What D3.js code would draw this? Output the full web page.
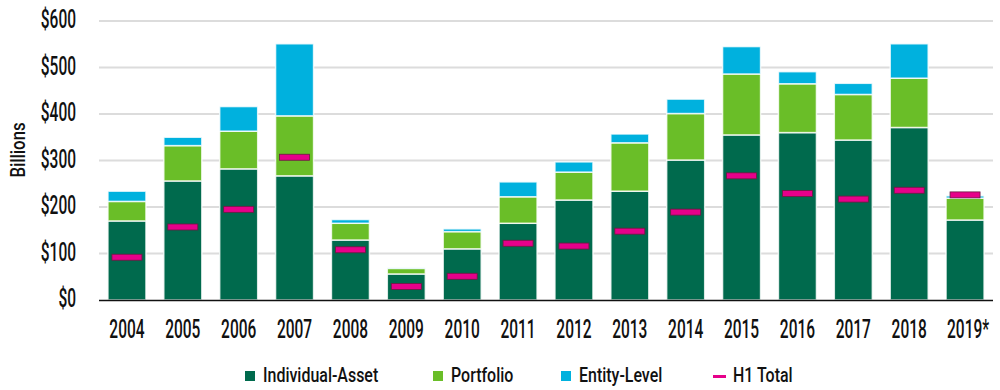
<!DOCTYPE html>
<html><head><meta charset="utf-8">
<script src="https://cdn.jsdelivr.net/npm/d3@7"></script>
<style>
body{margin:0;background:#fff;}
text{font-family:Roboto,"Noto Sans",sans-serif;fill:#111;font-weight:500;}
</style></head>
<body><svg id="c" width="1000" height="390"></svg>
<script>
const years = ["2004","2005","2006","2007","2008","2009","2010","2011","2012","2013","2014","2015","2016","2017","2018","2019*"];
const individualAsset = [170,256,282,267,129,56,110,165,215,234,301,355,360,344,371,172];
const portfolio       = [42,76,81,129,36,12,37,57,60,104,100,131,105,98,106,47];
const entityLevel     = [22,18,53,155,8,1,6,32,22,19,31,59,26,24,74,5];
const h1Total         = [92,157,195,307,108,29,51,122,116,148,189,267,229,217,236,226];
const yTicks = [0,100,200,300,400,500,600];
const seriesNames = ["Individual-Asset","Portfolio","Entity-Level"];
const colors = ["#006A4D","#6ABE28","#00B1DE"];
const h1Color = "#E6008A";

const svg = d3.select("#c");
const m = {l:99, r:993, t:21, b:300};
const x = d3.scaleBand().domain(years).range([m.l,m.r]).paddingInner(0.32).paddingOuter(0.16);
const y = d3.scaleLinear().domain([0,600]).range([m.b,m.t]);

// gridlines
svg.append("g").selectAll("line").data(yTicks.filter(d=>d>0)).join("line")
  .attr("x1",m.l).attr("x2",m.r).attr("y1",d=>y(d)).attr("y2",d=>y(d))
  .attr("stroke","#dcdcdc").attr("stroke-width",2);

// y labels (condensed via horizontal scale)
svg.append("g").selectAll("text").data(yTicks).join("text")
  .attr("transform",d=>`translate(76,${y(d)+7}) scale(0.62,1)`)
  .attr("text-anchor","end").attr("font-size",25).text(d=>"$"+d);

svg.append("text").attr("transform","translate(25,150) rotate(-90) scale(0.8,1)")
  .attr("text-anchor","middle").attr("font-size",21).text("Billions");

// stacks
const rows = years.map((yr,i)=>({year:yr,"Individual-Asset":individualAsset[i],"Portfolio":portfolio[i],"Entity-Level":entityLevel[i]}));
const stacked = d3.stack().keys(seriesNames)(rows);
svg.append("g").selectAll("g").data(stacked).join("g")
  .attr("fill",(d,i)=>colors[i])
  .selectAll("rect").data(d=>d).join("rect")
  .attr("x",d=>x(d.data.year)).attr("width",x.bandwidth())
  .attr("y",d=>y(d[1])).attr("height",d=>Math.max(0,y(d[0])-y(d[1])))
  .attr("stroke","#fff").attr("stroke-opacity",0.8).attr("stroke-width",1.5);

// H1 markers
const mw = 30, mh = 6;
svg.append("g").selectAll("rect").data(years).join("rect")
  .attr("x",d=>x(d)+x.bandwidth()/2-mw/2).attr("width",mw)
  .attr("y",(d,i)=>y(h1Total[i])-mh/2).attr("height",mh)
  .attr("fill",h1Color).attr("stroke","#6a1b40").attr("stroke-width",0.8);

// baseline
svg.append("line").attr("x1",m.l).attr("x2",m.r).attr("y1",y(0)+0.5).attr("y2",y(0)+0.5)
  .attr("stroke","#111").attr("stroke-width",1.5);

// x labels
svg.append("g").selectAll("text").data(years).join("text")
  .attr("transform",d=>`translate(${x(d)+x.bandwidth()/2+(d.endsWith("*")?3:0)},338) scale(0.62,1)`)
  .attr("text-anchor","middle").attr("font-size",25).text(d=>d);

// legend
const leg = [
  {name:"Individual-Asset",color:colors[0],x:245,type:"sq"},
  {name:"Portfolio",color:colors[1],x:433,type:"sq"},
  {name:"Entity-Level",color:colors[2],x:561,type:"sq"},
  {name:"H1 Total",color:h1Color,x:713,type:"line"}
];
const lg = svg.append("g").selectAll("g").data(leg).join("g");
lg.filter(d=>d.type==="sq").append("rect").attr("x",d=>d.x).attr("y",371).attr("width",10).attr("height",10).attr("fill",d=>d.color);
lg.filter(d=>d.type==="line").append("rect").attr("x",d=>d.x).attr("y",375).attr("width",13).attr("height",3).attr("fill",d=>d.color);
lg.append("text").attr("transform",d=>`translate(${d.x+(d.type==="line"?20:18)},382) scale(0.76,1)`)
  .attr("font-size",21).text(d=>d.name);
</script></body></html>
